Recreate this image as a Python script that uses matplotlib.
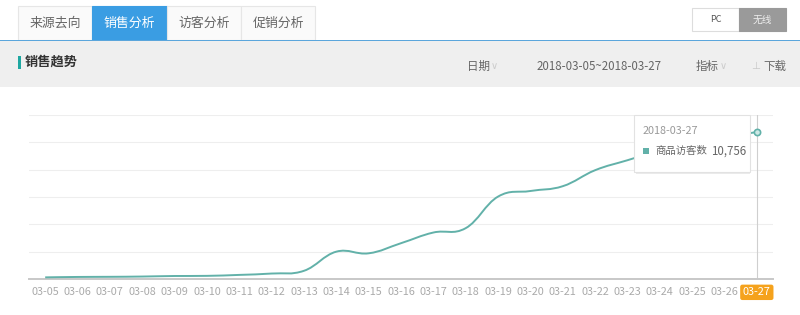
import numpy as np
import matplotlib
matplotlib.use("Agg")
import matplotlib.pyplot as plt
from matplotlib.patches import Rectangle, FancyBboxPatch, PathPatch
from matplotlib.path import Path

plt.rcParams["font.family"] = ["Noto Sans CJK SC", "DejaVu Sans"]

# data
dates = ["03-05", "03-06", "03-07", "03-08", "03-09", "03-10", "03-11", "03-12",
         "03-13", "03-14", "03-15", "03-16", "03-17", "03-18", "03-19", "03-20",
         "03-21", "03-22", "03-23", "03-24", "03-25", "03-26", "03-27"]
visitors = [120, 150, 160, 180, 220, 230, 300, 400, 600, 2000, 1880, 2620, 3400,
            3720, 6030, 6440, 6790, 7960, 8690, 9400, 9900, 10350, 10756]
tabs = ["来源去向", "销售分析", "访客分析", "促销分析"]
title = "销售趋势"
date_range = "2018-03-05~2018-03-27"
series_name = "商品访客数"

W, H = 800, 315
fig = plt.figure(figsize=(W / 100, H / 100), dpi=100)
fig.patch.set_facecolor("white")


def fx(x):
    return x / W


def fy(y):
    return 1 - y / H


def rect(x0, y0, x1, y1, **kw):
    fig.patches.append(Rectangle((fx(x0), fy(y1)), fx(x1 - x0), (y1 - y0) / H,
                                 transform=fig.transFigure, **kw))


def txt(x, y, s, **kw):
    fig.text(fx(x), fy(y), s, va="center", **kw)


# tabs
tab_x = [18, 92, 167, 241, 315]
for i, name in enumerate(tabs):
    active = i == 1
    rect(tab_x[i], 6, tab_x[i + 1], 40,
         facecolor="#3a9de3" if active else "#fafafa",
         edgecolor="#3a9de3" if active else "#e6e6e6", linewidth=0.8)
    txt((tab_x[i] + tab_x[i + 1]) / 2, 23, name, ha="center", fontsize=9.3,
        color="white" if active else "#666666")

# PC / wireless toggle
rect(692, 8, 739, 31, facecolor="white", edgecolor="#dddddd", linewidth=0.8)
rect(739, 8, 786, 31, facecolor="#9a9a9a", edgecolor="#9a9a9a", linewidth=0.8)
txt(716, 20, "PC", ha="center", fontsize=6.5, color="#555555")
txt(762, 20, "无线", ha="center", fontsize=7, color="#eeeeee")

# header bar
rect(0, 40, W, 41, facecolor="#5ba6dc", edgecolor="none")
rect(0, 41, W, 87, facecolor="#efefef", edgecolor="none")
rect(18, 56, 21, 69, facecolor="#1ea7a1", edgecolor="none")
txt(25, 62, title, ha="left", fontsize=9.5, color="#333333", fontweight="bold")
txt(467, 66, "日期", ha="left", fontsize=8.3, color="#666666")
txt(491, 66, "∨", ha="left", fontsize=7, color="#cccccc", family="DejaVu Sans")
txt(537, 66, date_range, ha="left", fontsize=8.3, color="#666666")
txt(696, 66, "指标", ha="left", fontsize=8.3, color="#666666")
txt(720, 66, "∨", ha="left", fontsize=7, color="#cccccc", family="DejaVu Sans")
txt(751, 66, "⊥", ha="left", fontsize=7.5, color="#c8c8c8", family="DejaVu Sans")
txt(763, 66, "下载", ha="left", fontsize=8.3, color="#666666")

# chart
ax = fig.add_axes([fx(29), fy(279), fx(773 - 29), (279 - 115) / H])
x = np.arange(len(dates))
y = np.array(visitors, dtype=float)

# smooth curve through the points (cubic bezier segments)
s = 0.2
verts = [(x[0], y[0])]
codes = [Path.MOVETO]
n = len(x)
for i in range(n - 1):
    p0 = np.array([x[max(i - 1, 0)], y[max(i - 1, 0)]])
    p1 = np.array([x[i], y[i]])
    p2 = np.array([x[i + 1], y[i + 1]])
    p3 = np.array([x[min(i + 2, n - 1)], y[min(i + 2, n - 1)]])
    c1 = p1 + (p2 - p0) * s
    c2 = p2 - (p3 - p1) * s
    verts += [tuple(c1), tuple(c2), tuple(p2)]
    codes += [Path.CURVE4] * 3
ax.add_patch(PathPatch(Path(verts, codes), facecolor="none", edgecolor="#62b1a9",
                       linewidth=1.4, zorder=3))

ax.axvline(x[-1], color="#cfcfcf", linewidth=0.8, zorder=2)
ax.plot(x[-1], y[-1], marker="o", markersize=4.5, markerfacecolor="#cde8e5",
        markeredgecolor="#62b1a9", markeredgewidth=1.2, zorder=4)

ax.set_xlim(-0.5, n - 0.5)
ax.set_ylim(0, 12000)
ax.set_yticks(np.arange(0, 12001, 2000))
ax.set_yticklabels([])
ax.tick_params(axis="y", length=0)
ax.grid(axis="y", color="#eeeeee", linewidth=0.8)
ax.set_axisbelow(True)
ax.set_xticks(x)
ax.set_xticklabels(dates, fontsize=7.8, color="#aaaaaa")
ax.tick_params(axis="x", length=0, pad=6)
for sp in ["top", "right", "left"]:
    ax.spines[sp].set_visible(False)
ax.spines["bottom"].set_color("#c8c8c8")
ax.spines["bottom"].set_linewidth(1.4)
last = ax.get_xticklabels()[-1]
last.set_color("white")
last.set_bbox(dict(boxstyle="round,pad=0.25,rounding_size=0.2",
                   facecolor="#f5a21c", edgecolor="none"))

# tooltip
fig.patches.append(FancyBboxPatch((fx(636), fy(174)), fx(114), 57 / H,
                                  boxstyle="square,pad=0", transform=fig.transFigure,
                                  facecolor="#d8d8d8", edgecolor="none", alpha=0.5,
                                  zorder=5))
fig.patches.append(FancyBboxPatch((fx(634), fy(172)), fx(116), 57 / H,
                                  boxstyle="square,pad=0", transform=fig.transFigure,
                                  facecolor="white", edgecolor="#e2e2e2",
                                  linewidth=0.8, zorder=6))
fig.text(fx(643), fy(131), "2018-" + dates[-1], va="center", ha="left",
         fontsize=7.8, color="#999999", zorder=7)
fig.patches.append(Rectangle((fx(643), fy(154)), fx(6), 6 / H,
                             transform=fig.transFigure, facecolor="#62b1a9",
                             edgecolor="none", zorder=7))
fig.text(fx(655), fy(151), series_name, va="center", ha="left",
         fontsize=7.5, color="#666666", zorder=7)
fig.text(fx(711), fy(151), f"{visitors[-1]:,}", va="center", ha="left",
         fontsize=8.3, color="#666666", zorder=7)

fig.savefig("out.png", dpi=100)
